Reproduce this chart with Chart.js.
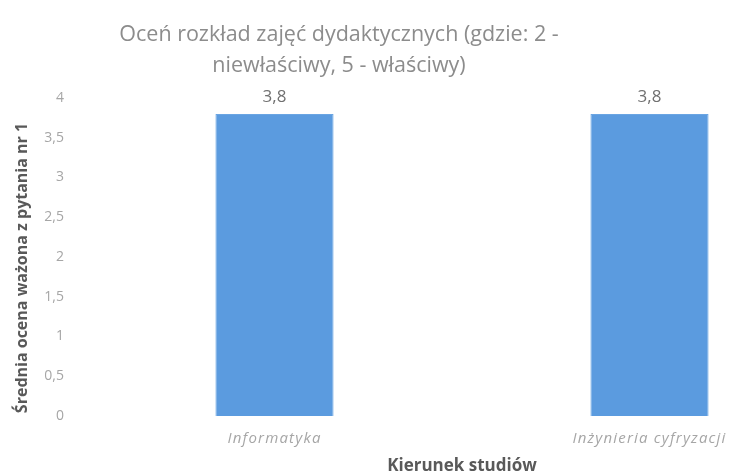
<!DOCTYPE html>
<html><head><meta charset="utf-8">
<script src="https://cdn.jsdelivr.net/npm/chart.js@4/dist/chart.umd.min.js"></script>
<style>
html,body{margin:0;padding:0;background:#fff;overflow:hidden;width:730px;height:476px;}
#wrap{position:relative;width:730px;height:476px;overflow:hidden;}
#title{position:absolute;left:39px;top:17px;width:600px;text-align:center;font-family:"Open Sans",sans-serif;font-size:21.5px;line-height:31px;color:#8c8c8c;}
#cv{position:absolute;left:0;top:0;}
</style></head>
<body><div id="wrap">
<canvas id="cv" width="840" height="476" style="width:840px;height:476px"></canvas>
<div id="title">Oceń rozkład zajęć dydaktycznych (gdzie: 2 -<br>niewłaściwy, 5 - właściwy)</div>
</div>
<script>
const categories = ["Informatyka", "Inżynieria cyfryzacji"];
const values = [3.8, 3.8];
const yTicks = [0, 0.5, 1, 1.5, 2, 2.5, 3, 3.5, 4];
const yTitle = "Średnia ocena ważona z pytania nr 1";
const xTitle = "Kierunek studiów";

const fmt = v => String(v).replace('.', ',');

const extrasPlugin = {
  id: 'extras',
  afterUpdate(chart) {
    const sx = chart.scales.x;
    if (sx && !sx._lsWrapped) {
      const orig = sx.drawLabels;
      sx.drawLabels = function (area) {
        const c = this.ctx;
        c.save();
        c.letterSpacing = '1.2px';
        orig.call(this, area);
        c.restore();
      };
      sx._lsWrapped = true;
    }
  },
  afterDraw(chart) {
    const ctx = chart.ctx;
    // y axis title
    ctx.save();
    ctx.translate(22, 268);
    ctx.rotate(-Math.PI / 2);
    ctx.font = 'bold 16px "Open Sans", sans-serif';
    ctx.fillStyle = '#595959';
    ctx.textAlign = 'center';
    ctx.textBaseline = 'middle';
    ctx.fillText(yTitle, 0, 0);
    ctx.restore();
  },
  afterDatasetsDraw(chart) {
    const ctx = chart.ctx;
    const meta = chart.getDatasetMeta(0);
    ctx.save();
    ctx.font = '17px "Open Sans", sans-serif';
    ctx.fillStyle = '#707070';
    ctx.textAlign = 'center';
    ctx.textBaseline = 'middle';
    meta.data.forEach((bar, i) => {
      ctx.fillText(fmt(values[i]), bar.x, bar.y - 17);
    });
    ctx.restore();
  }
};

new Chart(document.getElementById('cv'), {
  type: 'bar',
  data: {
    labels: categories,
    datasets: [{
      data: values,
      backgroundColor: '#5b9bdf',
      borderColor: '#6aa5e3',
      borderWidth: 1,
      categoryPercentage: 1,
      barPercentage: 0.315
    }]
  },
  options: {
    responsive: false,
    animation: false,
    layout: { padding: { top: 98, right: 3, left: 0, bottom: 0 } },
    plugins: { legend: { display: false }, tooltip: { enabled: false } },
    scales: {
      y: {
        min: 0, max: 4,
        afterBuildTicks(scale) { scale.ticks = yTicks.map(v => ({ value: v })); },
        afterFit(scale) { scale.width = 87; },
        grid: { display: false, drawTicks: false },
        border: { display: false },
        ticks: {
          padding: 23,
          color: '#a6a6a6',
          font: { family: '"Open Sans", sans-serif', size: 14 },
          callback: v => fmt(v)
        }
      },
      x: {
        afterFit(scale) { scale.height = 60; },
        grid: { display: false, drawTicks: false },
        border: { display: false },
        ticks: {
          padding: 14,
          color: '#a6a6a6',
          font: { family: '"Open Sans", sans-serif', size: 15, style: 'italic' }
        },
        title: {
          display: true, text: xTitle, color: '#595959',
          font: { family: '"Open Sans", sans-serif', size: 17, weight: 'bold' },
          padding: { top: 0, bottom: 0 }
        }
      }
    }
  },
  plugins: [extrasPlugin]
});
</script>
</body></html>
